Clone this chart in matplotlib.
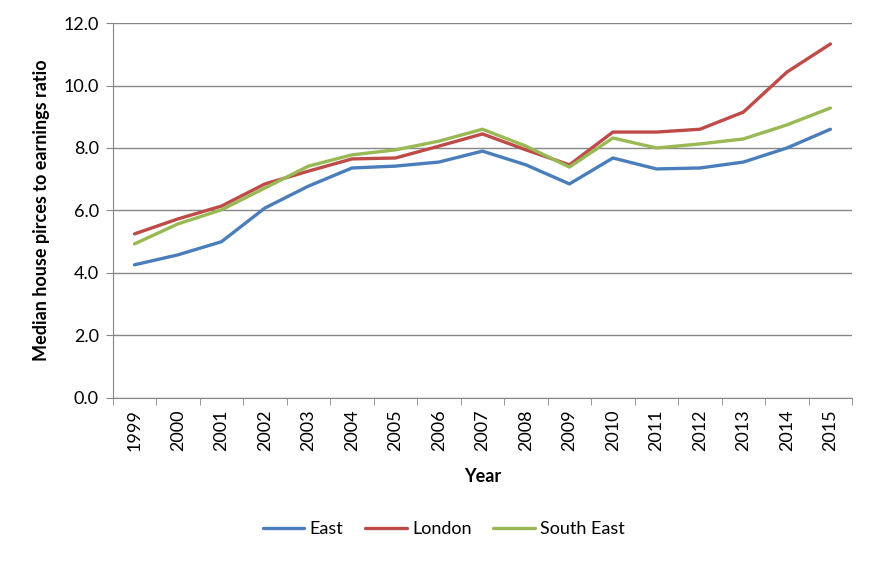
import matplotlib
matplotlib.use("Agg")
import matplotlib.pyplot as plt
import numpy as np

years = [str(y) for y in range(1999, 2016)]
east = [4.26, 4.58, 5.00, 6.08, 6.78, 7.36, 7.42, 7.55, 7.90, 7.46, 6.85, 7.68, 7.33, 7.36, 7.55, 8.00, 8.60]
london = [5.25, 5.73, 6.14, 6.85, 7.26, 7.65, 7.68, 8.06, 8.45, 7.94, 7.46, 8.51, 8.51, 8.60, 9.15, 10.43, 11.33]
south_east = [4.93, 5.57, 6.02, 6.72, 7.42, 7.78, 7.94, 8.22, 8.60, 8.06, 7.39, 8.32, 8.00, 8.13, 8.29, 8.74, 9.28]
yticks = [0, 2, 4, 6, 8, 10, 12]

plt.rcParams['font.family'] = ['Lato', 'DejaVu Sans']

fig = plt.figure(figsize=(8.74, 5.62), dpi=100)
ax = fig.add_axes([0.129, 0.292, 0.846, 0.667])

x = np.arange(len(years))
ax.plot(x, east, color='#4A7EBB', lw=2.4, label='East', solid_capstyle='round')
ax.plot(x, london, color='#BE4B48', lw=2.4, label='London', solid_capstyle='round')
ax.plot(x, south_east, color='#98B954', lw=2.4, label='South East', solid_capstyle='round')

ax.set_xlim(-0.5, len(years) - 0.5)
ax.set_ylim(0, 12)
ax.set_yticks(yticks)
ax.set_yticklabels([f"{v:.1f}" for v in yticks], fontsize=13)
ax.yaxis.grid(True, color='#868686', lw=1)
ax.set_axisbelow(True)

ax.set_xticks(x)
ax.set_xticklabels(years, rotation=90, fontsize=13)
ax.set_xticks(np.arange(-0.5, len(years), 1), minor=True)
ax.tick_params(axis='x', which='major', length=0, pad=8)
ax.tick_params(axis='x', which='minor', length=5, color='#868686')
ax.tick_params(axis='y', length=5, color='#868686', pad=5)

for s in ['top', 'right']:
    ax.spines[s].set_visible(False)
for s in ['left', 'bottom']:
    ax.spines[s].set_color('#868686')

ax.set_ylabel('Median house pirces to earnings ratio', fontsize=13, fontweight='bold', labelpad=10)
ax.set_xlabel('Year', fontsize=13, fontweight='bold', labelpad=12)

fig.legend(loc='center', bbox_to_anchor=(0.508, 0.058), ncol=3, frameon=False,
           fontsize=13, handlelength=2.3, columnspacing=1.2, handletextpad=0.3)

fig.savefig('out.png', dpi=100)
